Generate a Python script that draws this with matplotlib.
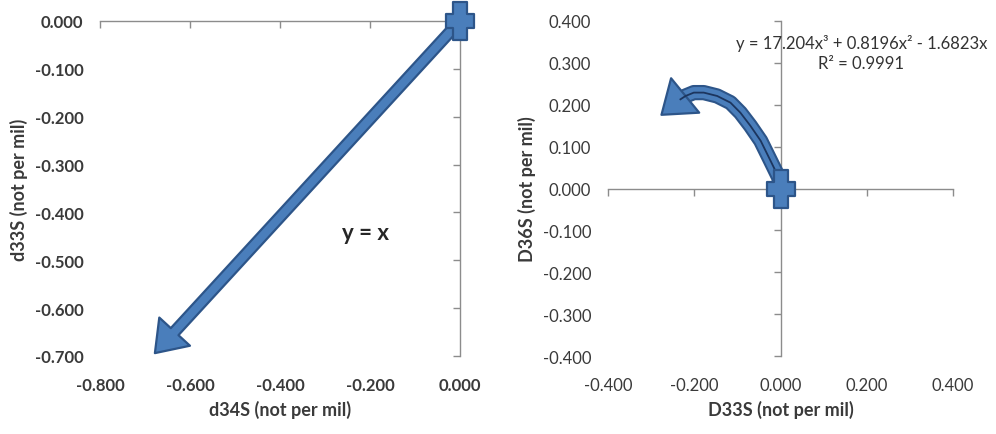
import matplotlib
matplotlib.use("Agg")
import matplotlib.pyplot as plt
from matplotlib.patches import FancyArrowPatch
from matplotlib.path import Path
import matplotlib.patheffects as pe

# ---------------- data ----------------
# Left panel: d33S vs d34S (arrow from origin along y = x)
d34S_arrow = [0.0, -0.678]
d33S_arrow = [0.0, -0.694]
left_xticks = [-0.8, -0.6, -0.4, -0.2, 0.0]
left_yticks = [0.0, -0.1, -0.2, -0.3, -0.4, -0.5, -0.6, -0.7]

# Right panel: D36S vs D33S (curved trend from origin)
D33S_trend = [0.0, -0.004, -0.023, -0.046, -0.070, -0.093, -0.116, -0.147,
              -0.178, -0.201, -0.220, -0.232]
D36S_trend = [0.0, 0.026, 0.066, 0.114, 0.150, 0.181, 0.205, 0.221,
              0.229, 0.229, 0.221, 0.213]
D33S_head_tip = -0.276
D36S_head_tip = 0.176
right_ticks = [-0.4, -0.2, 0.0, 0.2, 0.4]
right_yticks = [0.4, 0.3, 0.2, 0.1, 0.0, -0.1, -0.2, -0.3, -0.4]

left_eq = "y = x"
right_eq = "y = 17.204x³ + 0.8196x² - 1.6823x"
right_r2 = "R² = 0.9991"

# ---------------- style ----------------
plt.rcParams['font.family'] = ['Lato', 'DejaVu Sans']
FILL = '#4a7ebb'
EDGE = '#2d5589'
AXC = '#8c8c8c'
TXT = '#3a3a3a'

fig = plt.figure(figsize=(9.96, 4.35), dpi=100)
axL = fig.add_axes([100/996, 78/435, 360/996, 335/435])
axR = fig.add_axes([608/996, 78/435, 345/996, 335/435])

# plus marker path
a, w, h = 0.36, 0.75, 1.0
plus_verts = [(-a, -h), (a, -h), (a, -a), (w, -a), (w, a), (a, a), (a, h),
              (-a, h), (-a, a), (-w, a), (-w, -a), (-a, -a), (-a, -h)]
plus_marker = Path(plus_verts, closed=True)


def fmt(v):
    return f"{v:.3f}"


def style_axes(ax, xticks, yticks):
    for s in ['left', 'bottom']:
        ax.spines[s].set_visible(False)
    for s in ['top', 'right']:
        ax.spines[s].set_color(AXC)
        ax.spines[s].set_linewidth(1.0)
    ax.set_xticks(xticks)
    ax.set_yticks(yticks)
    ax.set_xticklabels([fmt(v) for v in xticks])
    ax.set_yticklabels([fmt(v) for v in yticks])
    ax.tick_params(axis='x', bottom=False, top=True, labelbottom=True, labeltop=False,
                   direction='in', length=5, width=1, color=AXC, pad=15,
                   labelsize=12, labelcolor=TXT)
    ax.tick_params(axis='y', left=False, right=True, labelleft=True, labelright=False,
                   direction='in', length=5, width=1, color=AXC, pad=12,
                   labelsize=12, labelcolor=TXT)
    for lab in ax.get_xticklabels() + ax.get_yticklabels():
        lab.set_fontweight('bold')
    ax.patch.set_alpha(0)


# ---------------- left panel ----------------
axL.set_xlim(-0.8, 0.0)
axL.set_ylim(-0.7, 0.0)
style_axes(axL, left_xticks, left_yticks)
axL.set_xlabel("d34S (not per mil)", fontsize=13, fontweight='bold', color=TXT, labelpad=5)
axL.set_ylabel("d33S (not per mil)", fontsize=13, fontweight='bold', color=TXT, labelpad=5)

arrL = FancyArrowPatch((d34S_arrow[0], d33S_arrow[0]), (d34S_arrow[1], d33S_arrow[1]),
                       arrowstyle='simple,head_length=2.1,head_width=3.0,tail_width=0.75',
                       mutation_scale=10, fc=FILL, ec=EDGE, lw=1.6,
                       shrinkA=0, shrinkB=0, clip_on=False, zorder=3)
axL.add_patch(arrL)
axL.plot([d34S_arrow[0]], [d33S_arrow[0]], marker=plus_marker, ms=27, mfc=FILL,
         mec=EDGE, mew=1.6, ls='none', clip_on=False, zorder=4)
axL.text(-0.211, -0.441, left_eq, fontsize=16, fontweight='bold', color='#262626',
         ha='center', va='center')

# ---------------- right panel ----------------
axR.set_xlim(-0.4, 0.4)
axR.set_ylim(-0.4, 0.4)
style_axes(axR, right_ticks, right_yticks)
axR.spines['top'].set_position(('data', 0))
axR.spines['right'].set_position(('data', 0))
axR.set_xlabel("D33S (not per mil)", fontsize=13, fontweight='bold', color=TXT, labelpad=5)
axR.set_ylabel("D36S (not per mil)", fontsize=13, fontweight='bold', color=TXT, labelpad=5)

axR.plot(D33S_trend, D36S_trend, color=FILL, lw=8, solid_capstyle='butt',
         solid_joinstyle='round', zorder=3,
         path_effects=[pe.Stroke(linewidth=11, foreground=EDGE, joinstyle='round'),
                       pe.Normal()])
arrR = FancyArrowPatch((D33S_trend[-1], D36S_trend[-1]), (D33S_head_tip, D36S_head_tip),
                       arrowstyle='simple,head_length=2.2,head_width=3.2,tail_width=0.5',
                       mutation_scale=10, fc=FILL, ec=EDGE, lw=1.6,
                       shrinkA=0, shrinkB=0, clip_on=False, zorder=4)
axR.add_patch(arrR)
axR.plot(D33S_trend, D36S_trend, color='#1c355e', lw=1.3, zorder=5,
         solid_joinstyle='round')
axR.plot([D33S_trend[0]], [D36S_trend[0]], marker=plus_marker, ms=27, mfc=FILL,
         mec=EDGE, mew=1.6, ls='none', clip_on=False, zorder=6)

axR.text(0.188, 0.348, right_eq, fontsize=12, color='#333333', ha='center', va='center')
axR.text(0.186, 0.300, right_r2, fontsize=12, color='#333333', ha='center', va='center')

fig.savefig("out.png", dpi=100)
